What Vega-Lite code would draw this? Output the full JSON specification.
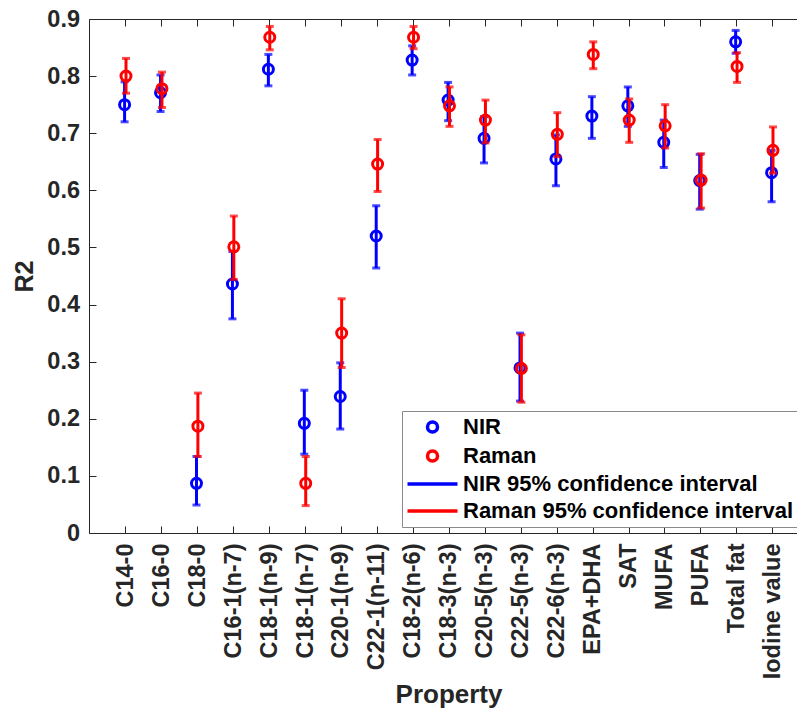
{
  "$schema": "https://vega.github.io/schema/vega-lite/v6.json",
  "width": 708,
  "height": 514,
  "autosize": {"type": "none"},
  "padding": {"left": 89, "top": 19, "right": 0, "bottom": 184},
  "background": "white",
  "config": {
    "view": {"stroke": null},
    "font": "Liberation Sans",
    "axis": {
      "labelFont": "Liberation Sans",
      "labelFontWeight": "bold",
      "labelFontSize": 23.5,
      "labelColor": "#262626",
      "domainColor": "#262626",
      "tickColor": "#262626",
      "grid": false,
      "titleFont": "Liberation Sans",
      "titleFontWeight": "bold",
      "titleColor": "#262626"
    },
    "legend": {
      "orient": "none",
      "legendX": 313,
      "legendY": 392,
      "strokeColor": "#8a8a8a",
      "fillColor": "white",
      "padding": 5,
      "rowPadding": 5,
      "labelFont": "Liberation Sans",
      "labelFontWeight": "bold",
      "labelFontSize": 22,
      "labelColor": "#000000",
      "labelLimit": 0,
      "symbolStrokeWidth": 3.5,
      "symbolSize": 100,
      "symbolOffset": 14.5,
      "labelOffset": 19.5
    }
  },
  "data": {
    "values": [
      {"prop": "C14-0", "series": "NIR", "r2": 0.750, "lo": 0.720, "hi": 0.790},
      {"prop": "C16-0", "series": "NIR", "r2": 0.771, "lo": 0.738, "hi": 0.802},
      {"prop": "C18-0", "series": "NIR", "r2": 0.087, "lo": 0.049, "hi": 0.134},
      {"prop": "C16-1(n-7)", "series": "NIR", "r2": 0.436, "lo": 0.375, "hi": 0.493},
      {"prop": "C18-1(n-9)", "series": "NIR", "r2": 0.812, "lo": 0.783, "hi": 0.838},
      {"prop": "C18-1(n-7)", "series": "NIR", "r2": 0.192, "lo": 0.138, "hi": 0.250},
      {"prop": "C20-1(n-9)", "series": "NIR", "r2": 0.239, "lo": 0.182, "hi": 0.298},
      {"prop": "C22-1(n-11)", "series": "NIR", "r2": 0.520, "lo": 0.464, "hi": 0.573},
      {"prop": "C18-2(n-6)", "series": "NIR", "r2": 0.828, "lo": 0.802, "hi": 0.853},
      {"prop": "C18-3(n-3)", "series": "NIR", "r2": 0.758, "lo": 0.722, "hi": 0.789},
      {"prop": "C20-5(n-3)", "series": "NIR", "r2": 0.691, "lo": 0.648, "hi": 0.729},
      {"prop": "C22-5(n-3)", "series": "NIR", "r2": 0.289, "lo": 0.231, "hi": 0.350},
      {"prop": "C22-6(n-3)", "series": "NIR", "r2": 0.655, "lo": 0.608, "hi": 0.697},
      {"prop": "EPA+DHA", "series": "NIR", "r2": 0.730, "lo": 0.691, "hi": 0.764},
      {"prop": "SAT", "series": "NIR", "r2": 0.748, "lo": 0.712, "hi": 0.781},
      {"prop": "MUFA", "series": "NIR", "r2": 0.684, "lo": 0.640, "hi": 0.723},
      {"prop": "PUFA", "series": "NIR", "r2": 0.617, "lo": 0.567, "hi": 0.663},
      {"prop": "Total fat", "series": "NIR", "r2": 0.860, "lo": 0.840, "hi": 0.880},
      {"prop": "Iodine value", "series": "NIR", "r2": 0.631, "lo": 0.580, "hi": 0.670},
      {"prop": "C14-0", "series": "Raman", "r2": 0.800, "lo": 0.770, "hi": 0.831},
      {"prop": "C16-0", "series": "Raman", "r2": 0.778, "lo": 0.745, "hi": 0.807},
      {"prop": "C18-0", "series": "Raman", "r2": 0.187, "lo": 0.134, "hi": 0.245},
      {"prop": "C16-1(n-7)", "series": "Raman", "r2": 0.501, "lo": 0.444, "hi": 0.555},
      {"prop": "C18-1(n-9)", "series": "Raman", "r2": 0.868, "lo": 0.846, "hi": 0.887},
      {"prop": "C18-1(n-7)", "series": "Raman", "r2": 0.087, "lo": 0.048, "hi": 0.134},
      {"prop": "C20-1(n-9)", "series": "Raman", "r2": 0.350, "lo": 0.290, "hi": 0.410},
      {"prop": "C22-1(n-11)", "series": "Raman", "r2": 0.646, "lo": 0.598, "hi": 0.689},
      {"prop": "C18-2(n-6)", "series": "Raman", "r2": 0.868, "lo": 0.848, "hi": 0.887},
      {"prop": "C18-3(n-3)", "series": "Raman", "r2": 0.748, "lo": 0.712, "hi": 0.781},
      {"prop": "C20-5(n-3)", "series": "Raman", "r2": 0.723, "lo": 0.683, "hi": 0.758},
      {"prop": "C22-5(n-3)", "series": "Raman", "r2": 0.288, "lo": 0.229, "hi": 0.347},
      {"prop": "C22-6(n-3)", "series": "Raman", "r2": 0.698, "lo": 0.659, "hi": 0.736},
      {"prop": "EPA+DHA", "series": "Raman", "r2": 0.838, "lo": 0.813, "hi": 0.860},
      {"prop": "SAT", "series": "Raman", "r2": 0.723, "lo": 0.684, "hi": 0.760},
      {"prop": "MUFA", "series": "Raman", "r2": 0.713, "lo": 0.674, "hi": 0.750},
      {"prop": "PUFA", "series": "Raman", "r2": 0.618, "lo": 0.569, "hi": 0.664},
      {"prop": "Total fat", "series": "Raman", "r2": 0.817, "lo": 0.789, "hi": 0.841},
      {"prop": "Iodine value", "series": "Raman", "r2": 0.670, "lo": 0.630, "hi": 0.711}
    ]
  },
  "layer": [
    {
      "transform": [{"filter": "datum.series === 'NIR'"}],
      "mark": {"type": "rule", "strokeWidth": 3, "xOffset": -0.7},
      "encoding": {
        "x": {"field": "prop", "type": "nominal", "sort": null,
              "scale": {"type": "point", "padding": 0.8485, "align": 0.595},
              "axis": {"orient": "top", "labels": false, "title": null, "tickSize": -7, "domain": true}},
        "y": {"field": "lo", "type": "quantitative", "title": "R2",
              "scale": {"domain": [0, 0.9], "nice": false},
              "axis": {"orient": "left", "values": [0, 0.1, 0.2, 0.3, 0.4, 0.5, 0.6, 0.7, 0.8, 0.9], "format": "~g",
                       "tickSize": -7, "labelPadding": 16.5, "titleFontSize": 25,
                       "titleX": -65, "titleY": 257, "titleBaseline": "middle", "titleAngle": -90}},
        "y2": {"field": "hi"},
        "color": {"value": "#0000ff"}
      }
    },
    {
      "transform": [{"filter": "datum.series === 'NIR'"}],
      "mark": {"type": "tick", "thickness": 3, "size": 8, "xOffset": -0.7},
      "encoding": {
        "x": {"field": "prop", "type": "nominal", "sort": null, "axis": null},
        "y": {"field": "lo", "type": "quantitative", "title": "R2", "axis": null},
        "color": {"value": "#0000ff"}
      }
    },
    {
      "transform": [{"filter": "datum.series === 'NIR'"}],
      "mark": {"type": "tick", "thickness": 3, "size": 8, "xOffset": -0.7},
      "encoding": {
        "x": {"field": "prop", "type": "nominal", "sort": null, "axis": null},
        "y": {"field": "hi", "type": "quantitative", "title": "R2", "axis": null},
        "color": {"value": "#0000ff"}
      }
    },
    {
      "transform": [{"filter": "datum.series === 'NIR'"}],
      "mark": {"type": "point", "filled": false, "strokeWidth": 3, "size": 100, "opacity": 1, "xOffset": -0.7},
      "encoding": {
        "x": {"field": "prop", "type": "nominal", "sort": null,
              "axis": {"orient": "bottom", "labelAngle": -90, "labelPadding": 17, "tickSize": -7,
                       "title": "Property", "titleFontSize": 26, "titleX": 359.5, "titleY": 169,
                       "titleBaseline": "alphabetic"}},
        "y": {"field": "r2", "type": "quantitative", "title": "R2", "axis": null},
        "color": {"field": "series", "type": "nominal", "title": null,
                  "scale": {"domain": ["NIR", "Raman", "NIR 95% confidence interval", "Raman 95% confidence interval"],
                            "range": ["#0000ff", "#ff0000", "#0000ff", "#ff0000"]}},
        "shape": {"field": "series", "type": "nominal", "title": null,
                  "scale": {"domain": ["NIR", "Raman", "NIR 95% confidence interval", "Raman 95% confidence interval"],
                            "range": ["circle", "circle", "M-5,0H5", "M-5,0H5"]}}
      }
    },
    {
      "transform": [{"filter": "datum.series === 'Raman'"}],
      "mark": {"type": "rule", "strokeWidth": 3, "xOffset": 0.7},
      "encoding": {
        "x": {"field": "prop", "type": "nominal", "sort": null, "axis": null},
        "y": {"field": "lo", "type": "quantitative", "title": "R2", "axis": null},
        "y2": {"field": "hi"},
        "color": {"value": "#ff0000"}
      }
    },
    {
      "transform": [{"filter": "datum.series === 'Raman'"}],
      "mark": {"type": "tick", "thickness": 3, "size": 8, "xOffset": 0.7},
      "encoding": {
        "x": {"field": "prop", "type": "nominal", "sort": null, "axis": null},
        "y": {"field": "lo", "type": "quantitative", "title": "R2", "axis": null},
        "color": {"value": "#ff0000"}
      }
    },
    {
      "transform": [{"filter": "datum.series === 'Raman'"}],
      "mark": {"type": "tick", "thickness": 3, "size": 8, "xOffset": 0.7},
      "encoding": {
        "x": {"field": "prop", "type": "nominal", "sort": null, "axis": null},
        "y": {"field": "hi", "type": "quantitative", "title": "R2", "axis": null},
        "color": {"value": "#ff0000"}
      }
    },
    {
      "transform": [{"filter": "datum.series === 'Raman'"}],
      "mark": {"type": "point", "filled": false, "strokeWidth": 3, "size": 100, "opacity": 1, "xOffset": 0.7},
      "encoding": {
        "x": {"field": "prop", "type": "nominal", "sort": null, "axis": null},
        "y": {"field": "r2", "type": "quantitative", "title": "R2", "axis": null},
        "color": {"field": "series", "type": "nominal", "title": null,
                  "scale": {"domain": ["NIR", "Raman", "NIR 95% confidence interval", "Raman 95% confidence interval"],
                            "range": ["#0000ff", "#ff0000", "#0000ff", "#ff0000"]}},
        "shape": {"field": "series", "type": "nominal", "title": null,
                  "scale": {"domain": ["NIR", "Raman", "NIR 95% confidence interval", "Raman 95% confidence interval"],
                            "range": ["circle", "circle", "M-5,0H5", "M-5,0H5"]}}
      }
    }
  ],
  "resolve": {"axis": {"x": "independent", "y": "independent"}}
}
